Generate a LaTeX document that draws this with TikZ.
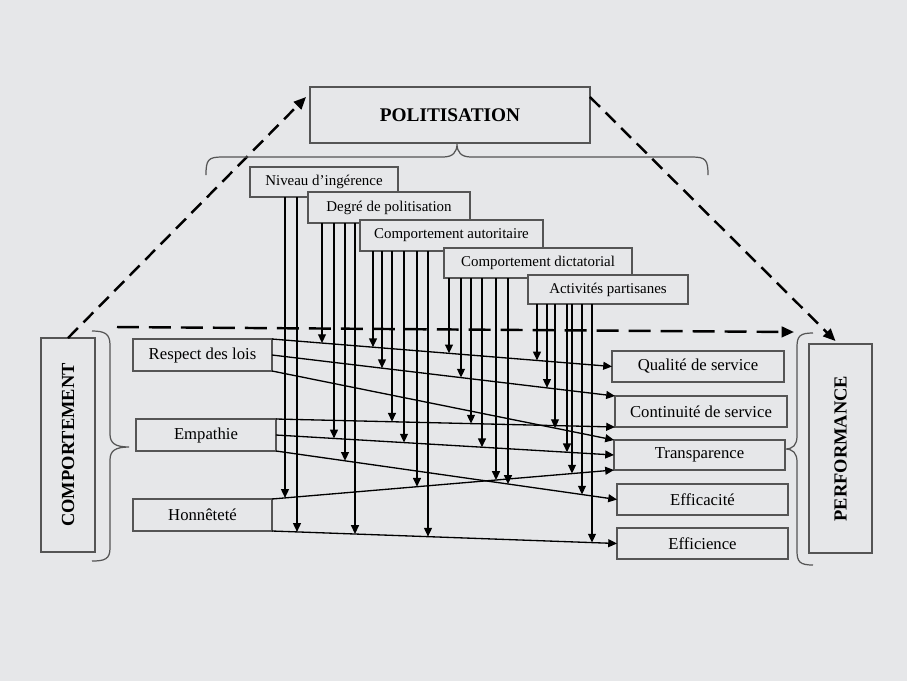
\documentclass[tikz,border=0pt]{standalone}
\usepackage{fontspec}
\setmainfont{Liberation Serif}
\usetikzlibrary{arrows.meta,intersections}

\definecolor{bgcol}{RGB}{230,231,233}
\definecolor{boxcol}{RGB}{85,85,85}

\begin{document}
\begin{tikzpicture}[x=0.02cm, y=-0.02cm,
    box/.style={draw=boxcol, fill=bgcol, line width=0.7pt, inner sep=0pt, outer sep=0pt},
    modbox/.style={box, font=\fontsize{8.5}{10}\selectfont},
    varbox/.style={box, font=\fontsize{9.5}{11}\selectfont},
    bigbox/.style={box, font=\bfseries\fontsize{10.5}{12}\selectfont},
    link/.style={line width=0.75pt, -{Triangle[length=5pt, width=4.5pt]}},
    modarrow/.style={line width=0.75pt, -{Triangle[length=5pt, width=4.5pt]}},
    dasharrow/.style={line width=1.4pt, dash pattern=on 8pt off 4.5pt, -{Triangle[length=7pt, width=6pt]}},
    bracket/.style={draw=boxcol, line width=0.7pt}
  ]

    % Background
    \fill[bgcol] (0,0) rectangle (907,681);
    \useasboundingbox (0,0) rectangle (907,681);

    % Dashed relations
    \coordinate (hl) at (117,327);
    \coordinate (hr) at (794,332);
    \draw[dasharrow, dash pattern=on 12.5pt off 5.7pt] (hl) -- (hr);

    % Main blocks
    \node[bigbox, minimum width=5.6cm, minimum height=1.12cm, font=\bfseries\fontsize{11}{13}\selectfont] (pol) at (450,115) {POLITISATION};
    \node[bigbox, rotate=90, minimum width=4.28cm, minimum height=1.08cm] (comp) at (68,445) {COMPORTEMENT};
    \node[bigbox, rotate=90, minimum width=4.18cm, minimum height=1.26cm] (perf) at (840.5,448.5) {PERFORMANCE};

    \draw[dasharrow] (comp.east) -- ([shift={(-4,10)}]pol.north west);
    \draw[dasharrow] ([shift={(0,10)}]pol.north east) -- ([shift={(-5,-3)}]perf.east);

    % Braces
    \draw[bracket] (206,175) .. controls (206,160) and (208,157) .. (222,157) -- (443,157)
      .. controls (453,157) and (457,152) .. (457,144) .. controls (457,152) and (461,157) .. (471,157)
      -- (692,157) .. controls (706,157) and (708,160) .. (708,175);
    \draw[bracket] (92,331) .. controls (105,331) and (110,334) .. (110,345) -- (110,434)
      .. controls (110,443) and (115,447) .. (129,447) .. controls (115,447) and (110,451) .. (110,460)
      -- (110,548) .. controls (110,559) and (105,561) .. (92,561);
    \draw[bracket] (813,333) .. controls (800,333) and (797,336) .. (797,347) -- (797,436)
      .. controls (797,445) and (793,449) .. (785,449) .. controls (793,449) and (797,453) .. (797,462)
      -- (797,551) .. controls (797,562) and (800,565) .. (813,565);

    % Politisation dimensions
    \node[modbox, minimum width=2.96cm, minimum height=0.6cm] (niv) at (324,182) {Niveau d'ingérence};
    \node[modbox, minimum width=3.24cm, minimum height=0.62cm] (deg) at (389,207.5) {Degré de politisation};
    \node[modbox, minimum width=3.66cm, minimum height=0.62cm] (aut) at (451.5,235.5) {Comportement autoritaire};
    \node[modbox, minimum width=3.76cm, minimum height=0.6cm] (dic) at (538,263) {Comportement dictatorial};
    \node[modbox, minimum width=3.2cm, minimum height=0.58cm] (act) at (608,289.5) {Activités partisanes};

    % Behaviour variables
    \node[varbox, minimum width=2.78cm, minimum height=0.64cm] (res) at (202.5,355) {Respect des lois};
    \node[varbox, minimum width=2.8cm, minimum height=0.64cm] (emp) at (206,435) {Empathie};
    \node[varbox, minimum width=2.78cm, minimum height=0.64cm] (hon) at (202.5,515) {Honnêteté};

    % Performance variables
    \node[varbox, minimum width=3.44cm, minimum height=0.62cm] (qua) at (698,366.5) {Qualité de service};
    \node[varbox, minimum width=3.44cm, minimum height=0.62cm] (con) at (701,411.5) {Continuité de service};
    \node[varbox, minimum width=3.42cm, minimum height=0.6cm] (tra) at (699.5,455) {Transparence};
    \node[varbox, minimum width=3.42cm, minimum height=0.62cm] (efa) at (702.5,499.5) {Efficacité};
    \node[varbox, minimum width=3.42cm, minimum height=0.62cm] (efi) at (702.5,543.5) {Efficience};

    % Links
    \draw[link, name path=l1] (res.north east) -- (qua.west);
    \draw[link, name path=l2] (res.east) -- (con.north west);
    \draw[link, name path=l3] (res.south east) -- (tra.north west);
    \draw[link, name path=l4] (emp.north east) -- (con.south west);
    \draw[link, name path=l5] (emp.east) -- (tra.west);
    \draw[link, name path=l6] (emp.south east) -- (efa.west);
    \draw[link, name path=l7] (hon.north east) -- (tra.south west);
    \draw[link, name path=l8] (hon.south east) -- (efi.west);

    % Moderating arrows
    \foreach \x/\m/\l in {285/niv/l7, 297/niv/l8,
        322/deg/l1, 334/deg/l5, 345/deg/l6, 355/deg/l8,
        373/aut/l1, 382/aut/l2, 392/aut/l4, 404/aut/l5, 417/aut/l7, 428/aut/l8,
        449/dic/l1, 461/dic/l2, 471/dic/l4, 482/dic/l5, 496/dic/l7, 508/dic/l6,
        537/act/l1, 547/act/l2, 555/act/l3, 567/act/l5, 572/act/l7, 582/act/l6, 592/act/l8}{
      \path[name path=v] (\x,0) -- (\x,681);
      \draw[modarrow, name intersections={of=v and \l}] (\x,0 |- \m.south) -- (intersection-1);
    }
\end{tikzpicture}
\end{document}
